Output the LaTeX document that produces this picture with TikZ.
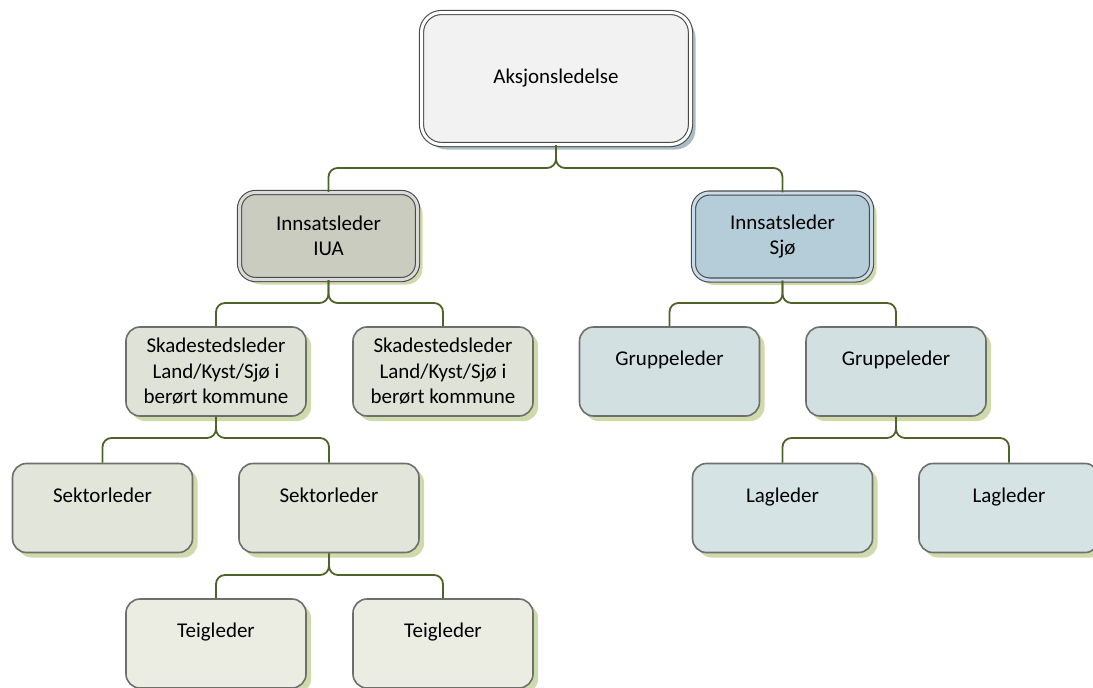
\documentclass[tikz,border=0pt]{standalone}
\usepackage{fontspec}
\setmainfont{Carlito}
\usetikzlibrary{shadows}
\definecolor{conncol}{HTML}{4F6228}
\definecolor{edgecol}{HTML}{6E6E6E}
\definecolor{darkedge}{HTML}{4A4A4A}
\definecolor{olshadow}{HTML}{CFDAAA}
\definecolor{blshadow}{HTML}{A9BCC6}
\definecolor{topfill}{HTML}{F2F2F2}
\definecolor{iuafill}{HTML}{C9CCBF}
\definecolor{iuagap}{HTML}{DADADA}
\definecolor{sjofill}{HTML}{B4CDD9}
\definecolor{sjogap}{HTML}{C8DCEA}
\definecolor{skadfill}{HTML}{DFE2D6}
\definecolor{sektfill}{HTML}{E2E5D9}
\definecolor{teigfill}{HTML}{EBEDE3}
\definecolor{gruppfill}{HTML}{D2E0E2}
\definecolor{lagfill}{HTML}{D6E3E4}
\begin{document}
\begin{tikzpicture}[x=1pt,y=-1pt,
  connector/.style={draw=conncol, line width=1.8pt, rounded corners=9pt},
  orgbox/.style={rectangle, rounded corners=14pt, draw=edgecol, line width=1.6pt,
    minimum width=180pt, minimum height=89pt, align=center,
    font=\fontsize{21}{25.5}\selectfont,
    drop shadow={shadow xshift=5pt, shadow yshift=-5pt, fill=olshadow, opacity=1}},
  oneline/.style={text height=14.7pt, text depth=26.7pt},
  dblbox/.style={rectangle, rounded corners=16pt, draw=darkedge, line width=1.1pt,
    double distance=3pt, minimum width=178pt, minimum height=87pt, align=center,
    font=\fontsize{21}{25.5}\selectfont,
    drop shadow={shadow xshift=5pt, shadow yshift=-5pt, fill=olshadow, opacity=1}}
]
\useasboundingbox (0,0) rectangle (1093,688);
\begin{scope}
\clip (0,0) rectangle (1093,688);
% top
\node[rectangle, rounded corners=20pt, draw=darkedge, line width=1.1pt, double=white,
  double distance=3pt, fill=topfill, minimum width=269pt, minimum height=132pt,
  font=\fontsize{21}{25.5}\selectfont,
  drop shadow={shadow xshift=5pt, shadow yshift=-5pt, fill=blshadow, opacity=1}]
  (top) at (556,78.5) {Aksjonsledelse};
% level 2
\node[dblbox, fill=iuafill, double=iuagap] (iua) at (328.5,236) {Innsatsleder\\IUA};
\node[dblbox, fill=sjofill, double=sjogap] (sjo) at (782.5,236.5) {Innsatsleder\\Sjø};
% level 3
\node[orgbox, fill=skadfill] (skad1) at (216,371.5) {Skadestedsleder\\Land/Kyst/Sjø i\\berørt kommune};
\node[orgbox, fill=skadfill] (skad2) at (443,371.5) {Skadestedsleder\\Land/Kyst/Sjø i\\berørt kommune};
\node[orgbox, oneline, fill=gruppfill] (grupp1) at (669.5,371.5) {Gruppeleder};
\node[orgbox, oneline, fill=gruppfill] (grupp2) at (896,371.5) {Gruppeleder};
% level 4
\node[orgbox, oneline, fill=sektfill] (sekt1) at (102.5,508) {Sektorleder};
\node[orgbox, oneline, fill=sektfill] (sekt2) at (329,508) {Sektorleder};
\node[orgbox, oneline, fill=lagfill] (lag1) at (782.5,508) {Lagleder};
\node[orgbox, oneline, fill=lagfill] (lag2) at (1009,508) {Lagleder};
% level 5
\node[orgbox, oneline, fill=teigfill] (teig1) at (216,643.5) {Teigleder};
\node[orgbox, oneline, fill=teigfill] (teig2) at (443,643.5) {Teigleder};
% connectors
\draw[connector] (iua.north) |- (top.south |- 0,168) -- (top.south);
\draw[connector] (sjo.north) |- (top.south |- 0,168) -- (top.south);
\draw[connector] (skad1.north) |- (iua.south |- 0,303) -- (iua.south);
\draw[connector] (skad2.north) |- (iua.south |- 0,303) -- (iua.south);
\draw[connector] (grupp1.north) |- (sjo.south |- 0,303) -- (sjo.south);
\draw[connector] (grupp2.north) |- (sjo.south |- 0,303) -- (sjo.south);
\draw[connector] (sekt1.north) |- (skad1.south |- 0,438) -- (skad1.south);
\draw[connector] (sekt2.north) |- (skad1.south |- 0,438) -- (skad1.south);
\draw[connector] (lag1.north) |- (grupp2.south |- 0,438) -- (grupp2.south);
\draw[connector] (lag2.north) |- (grupp2.south |- 0,438) -- (grupp2.south);
\draw[connector] (teig1.north) |- (sekt2.south |- 0,575) -- (sekt2.south);
\draw[connector] (teig2.north) |- (sekt2.south |- 0,575) -- (sekt2.south);
\end{scope}
\end{tikzpicture}
\end{document}
